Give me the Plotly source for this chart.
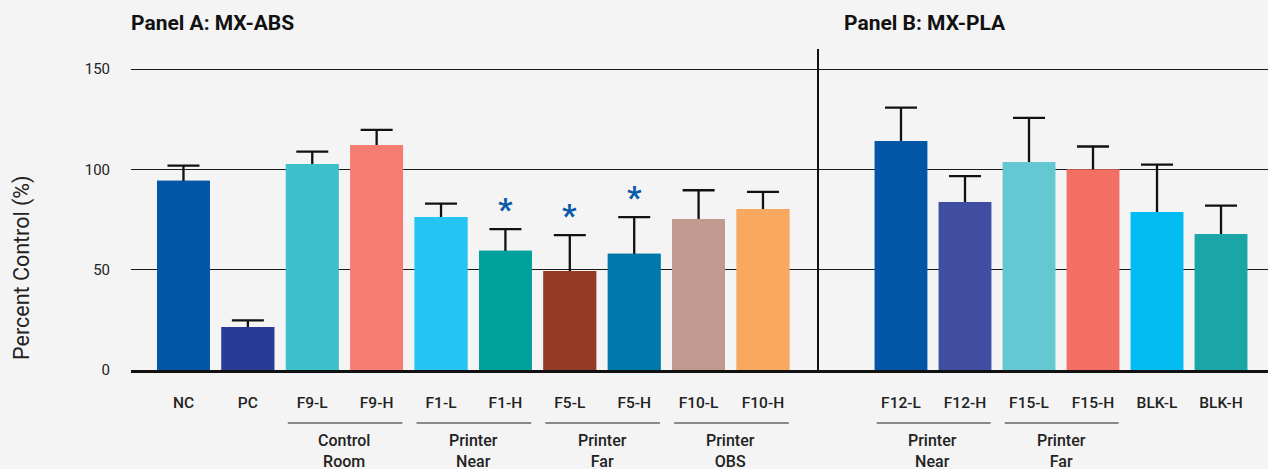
import plotly.graph_objects as go

# ---- Panel A: MX-ABS ----
cats_a = ["NC", "PC", "F9-L", "F9-H", "F1-L", "F1-H", "F5-L", "F5-H", "F10-L", "F10-H"]
mean_a = [94.3, 21.4, 102.7, 112.2, 76.3, 59.4, 49.4, 57.9, 75.3, 80.3]
err_a = [7.6, 3.3, 6.1, 7.5, 6.6, 10.8, 17.8, 18.3, 14.3, 8.5]
sig_a = ["", "", "", "", "", "*", "*", "*", "", ""]
groups_a = [("Control<br>Room", "F9-L", "F9-H"),
            ("Printer<br>Near", "F1-L", "F1-H"),
            ("Printer<br>Far", "F5-L", "F5-H"),
            ("Printer<br>OBS", "F10-L", "F10-H")]
colors_a = ["#0256a5", "#283c96", "#3dc0cc", "#f47c70", "#24c5f3",
            "#00a09c", "#943b26", "#0078ab", "#c09a8e", "#f9a85f"]

# ---- Panel B: MX-PLA ----
cats_b = ["F12-L", "F12-H", "F15-L", "F15-H", "BLK-L", "BLK-H"]
mean_b = [114.2, 83.8, 103.7, 99.9, 78.8, 67.8]
err_b = [16.6, 12.8, 22.0, 11.5, 23.6, 14.1]
sig_b = ["", "", "", "", "", ""]
groups_b = [("Printer<br>Near", "F12-L", "F12-H"),
            ("Printer<br>Far", "F15-L", "F15-H")]
colors_b = ["#0256a5", "#404ea2", "#63c8d2", "#f36f64", "#00bcf2", "#1aa6a6"]

y_ticks = [0, 50, 100, 150]

FONT = "Roboto"
INK = "#222222"
BG = "#f4f4f4"
SPLIT = 0.6051

fig = go.Figure()


def add_panel(cats, means, errs, colors, xa, ya):
    # Bars carrying symmetric error bars; a second identical bar layer is
    # drawn on top so only the upper whisker stays visible.
    fig.add_trace(go.Bar(
        x=cats, y=means, width=0.82,
        marker=dict(color=colors, line=dict(width=0)),
        error_y=dict(type="data", array=errs, symmetric=True,
                     color="#111111", thickness=2.3, width=16),
        xaxis=xa, yaxis=ya, showlegend=False, hoverinfo="skip",
    ))
    fig.add_trace(go.Bar(
        x=cats, y=means, width=0.82,
        marker=dict(color=colors, line=dict(width=0)),
        xaxis=xa, yaxis=ya, showlegend=False, hoverinfo="x+y",
    ))


add_panel(cats_a, mean_a, err_a, colors_a, "x", "y")
add_panel(cats_b, mean_b, err_b, colors_b, "x2", "y2")

annotations = []
shapes = []


def decorate(cats, means, errs, sig, groups, xref):
    for c, m, e, s in zip(cats, means, errs, sig):
        if s:
            annotations.append(dict(
                x=c, y=m + e, xref=xref, yref="y", text=s, showarrow=False,
                yanchor="middle", yshift=20,
                font=dict(family=FONT, size=32, color="#0a5aa8", weight=700)))
    for label, first, last in groups:
        i0, i1 = cats.index(first), cats.index(last)
        shapes.append(dict(
            type="line", xref=xref, yref="paper", ysizemode="pixel", yanchor=0,
            x0=i0 - 0.38, x1=i1 + 0.40, y0=-53, y1=-53,
            line=dict(color="#666666", width=1.5)))
        annotations.append(dict(
            x=(i0 + i1) / 2, y=0, xref=xref, yref="paper", text=label,
            showarrow=False, yanchor="top", yshift=-59,
            font=dict(family=FONT, size=16, color=INK, weight=500)))


decorate(cats_a, mean_a, err_a, sig_a, groups_a, "x")
decorate(cats_b, mean_b, err_b, sig_b, groups_b, "x2")

annotations += [
    dict(text="Panel A: MX-ABS", xref="paper", yref="paper", x=0, y=1,
         xanchor="left", yanchor="middle", yshift=26, xshift=-2, showarrow=False,
         font=dict(family=FONT, size=21, color="#111111", weight=700)),
    dict(text="Panel B: MX-PLA", xref="paper", yref="paper", x=SPLIT, y=1,
         xanchor="left", yanchor="middle", yshift=26, xshift=23, showarrow=False,
         font=dict(family=FONT, size=21, color="#111111", weight=700)),
    dict(text="Percent Control (%)", xref="paper", yref="paper", x=0, y=0.318,
         xshift=-109, textangle=-90, showarrow=False,
         xanchor="center", yanchor="middle",
         font=dict(family=FONT, size=21.5, color=INK)),
]

grid = dict(showgrid=True, gridcolor="#1a1a1a", gridwidth=1, zeroline=False,
            range=[0, 160], tickvals=y_ticks, fixedrange=True)
xcommon = dict(type="category", showline=True, linecolor="#111111", linewidth=3,
               ticks="", showgrid=False, zeroline=False, ticklabelstandoff=16,
               tickfont=dict(family=FONT, size=15.5, color=INK, weight=500),
               fixedrange=True)

fig.update_layout(
    width=1268, height=469,
    margin=dict(l=131, r=0, t=49, b=99),
    paper_bgcolor=BG, plot_bgcolor=BG,
    barmode="overlay",
    xaxis=dict(domain=[0, SPLIT], anchor="y", range=[-0.815, 9.87], **xcommon),
    xaxis2=dict(domain=[SPLIT, 1], anchor="y2", range=[-1.281, 5.734], **xcommon),
    yaxis=dict(domain=[0, 1], anchor="x", ticks="", ticklabelstandoff=20,
               tickfont=dict(family=FONT, size=15, color=INK), showline=False,
               **grid),
    yaxis2=dict(domain=[0, 1], anchor="x2", showticklabels=False, showline=True,
                linecolor="#111111", linewidth=2, ticks="", **grid),
    annotations=annotations,
    shapes=shapes,
)

fig.write_html("out.html", config={"displayModeBar": False})
